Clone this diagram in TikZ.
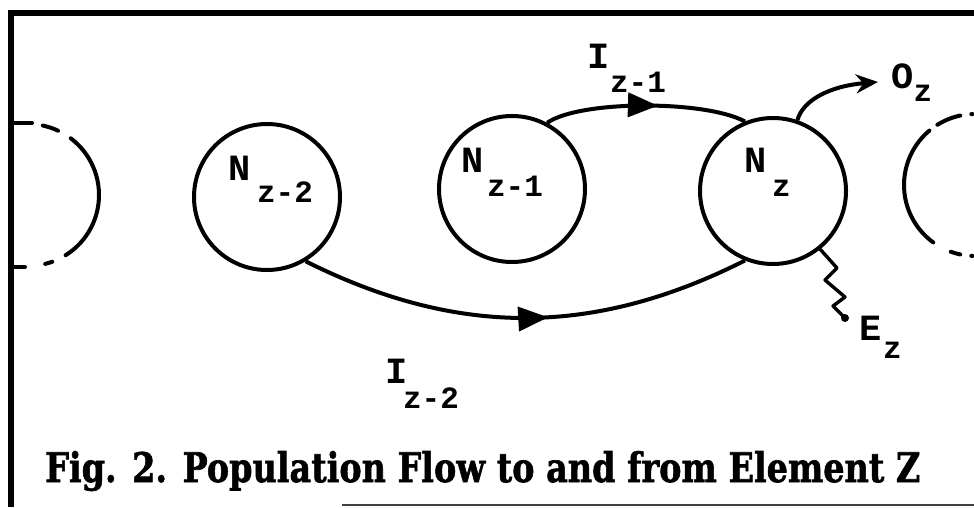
\documentclass[tikz,border=0pt]{standalone}
\usepackage{fontspec}
\setmainfont{Liberation Mono}
\newfontfamily\capfont{DejaVu Serif}[BoldFeatures={FakeBold=1.6}]
\usetikzlibrary{arrows.meta,decorations.markings}
\begin{document}
\begin{tikzpicture}[x=1pt,y=-1pt,
  pop/.style={circle,draw,line width=4pt,minimum size=146pt,inner sep=0pt},
  flow/.style={line width=4pt},
  mainl/.style={font=\fontsize{37}{37}\selectfont\bfseries,inner sep=0pt},
  subl/.style={font=\fontsize{31}{31}\selectfont\bfseries,inner sep=0pt},
  arcpart/.style={line width=4pt,line cap=round},
  midarrow/.style={postaction={decorate},decoration={markings,mark=at position #1 with {\arrow{Triangle[length=30pt,width=24pt]}}}}
]
\useasboundingbox (0,0) rectangle (974,507);
% frame
\draw[line width=5.5pt] (8,13) -- (974,13);
\draw[line width=5.5pt] (11,10) -- (11,507);
\draw[line width=2pt,black!75] (342,505) -- (974,505);
% left partial element
\draw[arcpart] (11,123) -- (32,123);
\draw[arcpart] (11,267) -- (25,267);
\draw[arcpart] (28,195) ++(-78:71) arc[start angle=-78,end angle=-65,radius=71];
\draw[arcpart] (28,195) ++(-53:71) arc[start angle=-53,end angle=58,radius=71];
\draw[arcpart] (28,195) ++(70:71) arc[start angle=70,end angle=76,radius=71];
% right partial element
\draw[arcpart] (975,185) ++(-92:71) arc[start angle=-92,end angle=-93,radius=71];
\draw[arcpart] (975,185) ++(-102:71) arc[start angle=-102,end angle=-122,radius=71];
\draw[arcpart] (975,185) ++(-130:71) arc[start angle=-130,end angle=-234,radius=71];
\draw[arcpart] (975,185) ++(-250:71) arc[start angle=-250,end angle=-258,radius=71];
\draw[arcpart] (975,185) ++(-267:71) arc[start angle=-267,end angle=-268,radius=71];
% elements
\node[pop] (n2) at (267,197) {};
\node[pop] (n1) at (512,189) {};
\node[pop] (nz) at (773,191) {};
% labels
\node[mainl] (n2N) at (240,168.5) {N};
\node[subl] (n2s) at (285,192.5) {z-2};
\node[mainl] (n1N) at (472.5,160) {N};
\node[subl] (n1s) at (515,186) {z-1};
\node[mainl] (nzN) at (756,160) {N};
\node[subl] (nzs) at (781.5,188.5) {z};
\node[mainl] (i1I) at (598.5,56.5) {I};
\node[subl] (i1s) at (638,82.5) {z-1};
\node[mainl] (i2I) at (396.5,371.5) {I};
\node[subl] (i2s) at (431,398) {z-2};
\node[mainl] (oO) at (902.5,76) {O};
\node[subl] (os) at (923,93.5) {z};
\node[mainl] (eE) at (871,328.5) {E};
\node[subl] (es) at (892.5,350) {z};
% flows
\draw[flow,midarrow=0.56] (n1.62) .. controls (580,100) and (705,100) .. (nz.112);
\draw[flow,midarrow=0.55] (n2.-59) .. controls (457,337) and (593,337) .. (nz.-112);
\coordinate (oend) at (878,82);
\draw[flow,-{Stealth[length=22pt,width=19pt]}] (nz.71) .. controls (803,100) and (830,86) .. (oend);
\coordinate (eend) at (845,318);
\draw[line width=3.4pt,line join=round] (nz.-51) -- (837,268) -- (825,280) -- (845,297) -- (833,306) -- (eend);
\fill (eend) circle[radius=4pt];
% caption
\node[anchor=base west,inner sep=0pt] (cap) at (45,482) {\resizebox{875pt}{31pt}{\capfont\bfseries Fig. 2. Population Flow to and from Element Z}};
\end{tikzpicture}
\end{document}
